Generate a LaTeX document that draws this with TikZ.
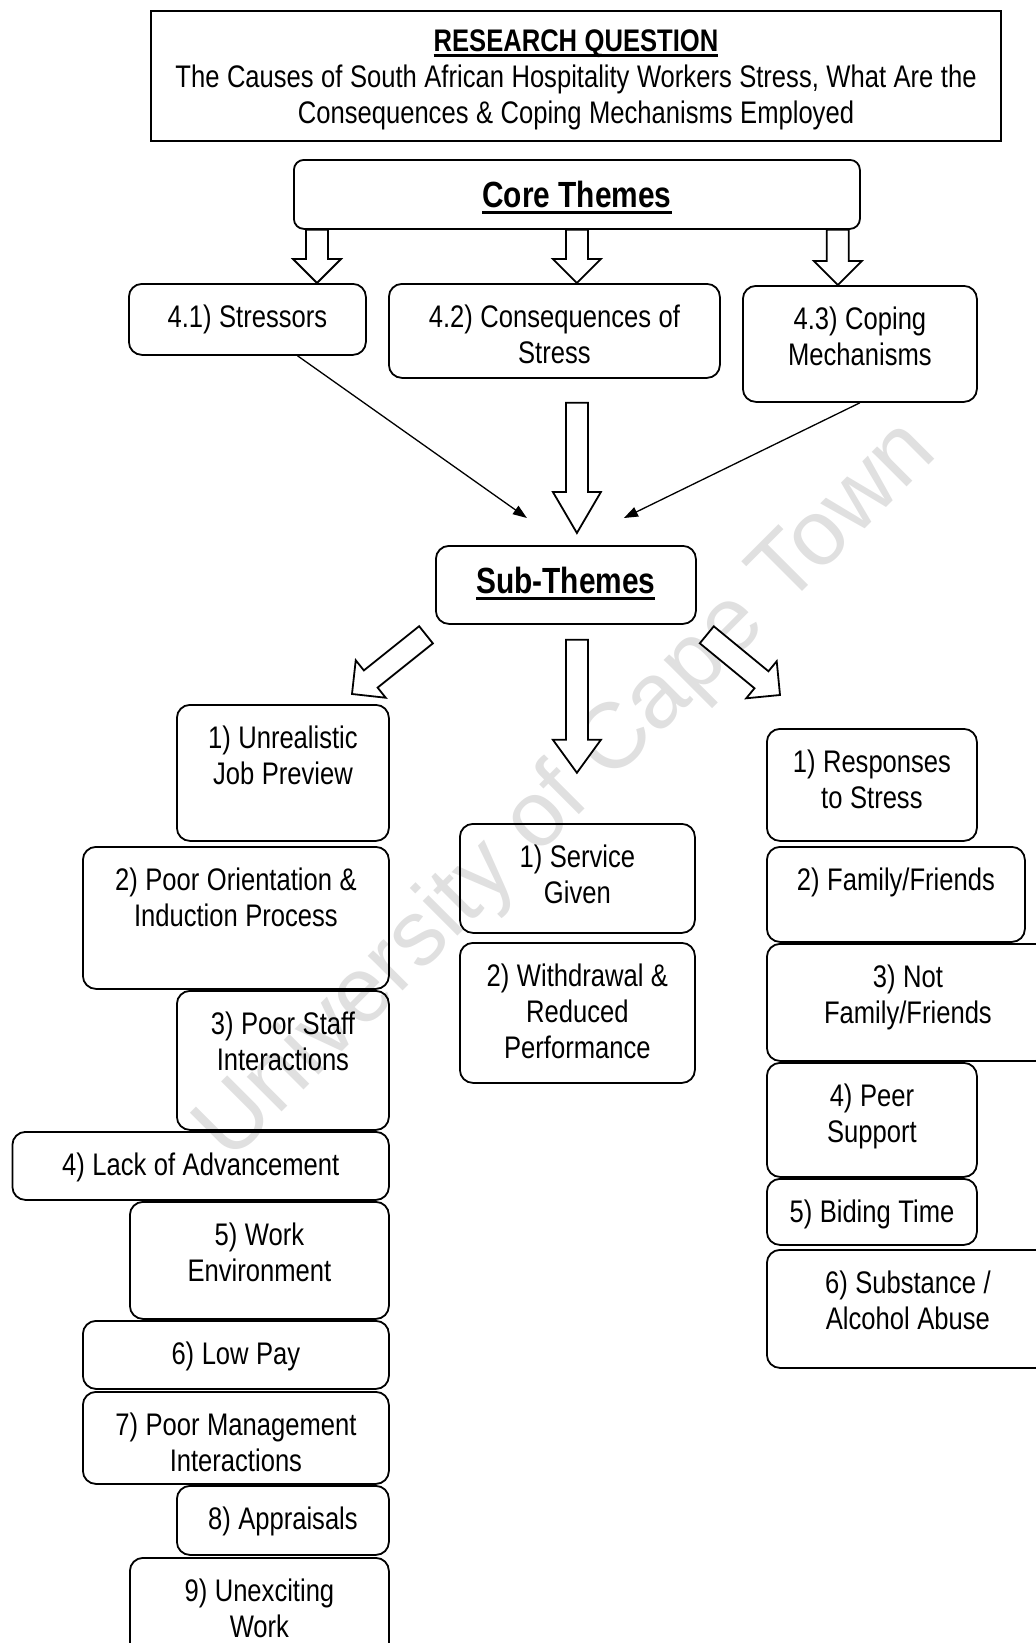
\documentclass[tikz,border=0pt]{standalone}
\usepackage{fontspec}
\setmainfont{Liberation Sans}[FakeStretch=0.82]
\newfontfamily\wmfont{Liberation Sans}
\usetikzlibrary{arrows.meta,calc}
\newcommand{\hdul}[1]{\setbox0=\hbox{#1}\rlap{\rule[-2.8pt]{\wd0}{1.3pt}}\box0}

\begin{document}
\begin{tikzpicture}[x=0.5pt, y=-0.5pt,
  tbox/.style={draw, line width=0.9pt, rounded corners=6.5pt, anchor=north west,
    inner sep=0pt, align=center, text height=22pt,
    font=\fontsize{15.6}{18}\selectfont,
    execute at begin node={\spaceskip=3.75pt\xspaceskip=3.75pt\relax}},
  head/.style={tbox, text height=24pt, font=\bfseries\fontsize{18.2}{21}\selectfont,
    execute at begin node={\spaceskip=4.2pt\xspaceskip=4.2pt\relax}},
  hollow/.style={draw, line width=0.9pt, fill=white, line join=miter,
    to path={($(\tikztotarget)!#1!(\tikztostart)$) coordinate (hb)
      ($(\tikztostart)!5.5pt!90:(\tikztotarget)$)
      -- ($(hb)!5.5pt!90:(\tikztotarget)$)
      -- ($(hb)!12pt!90:(\tikztotarget)$)
      -- (\tikztotarget)
      -- ($(hb)!12pt!-90:(\tikztotarget)$)
      -- ($(hb)!5.5pt!-90:(\tikztotarget)$)
      -- ($(\tikztostart)!5.5pt!-90:(\tikztotarget)$) -- cycle}},
  hollow/.default=12pt,
  thin/.style={-{Triangle[length=7pt,width=5pt]}, line width=0.65pt}]

\useasboundingbox (0,0) rectangle (1036,1643);
\clip (0,0) rectangle (1036,1643);

% watermark
\node[rotate=45, text=black!12, font=\wmfont\fontsize{46.5}{50}\selectfont] (wm) at (568,792)
  {University of Cape Town};

% research question
\node[tbox, sharp corners, line width=1pt, text width=425pt, text height=20pt, text depth=44.75pt] (rq) at (150,10.5)
  {\hdul{\textbf{RESEARCH QUESTION}}\\The Causes of South African Hospitality Workers Stress, What Are the\\Consequences \& Coping Mechanisms Employed};

% core themes
\node[head, rounded corners=5pt, text width=283pt, text depth=10.5pt] (core) at (293,159) {\hdul{Core Themes}};

\node[tbox, text width=118.5pt, text depth=13.5pt] (s41) at (128,283) {4.1) Stressors};
\node[tbox, text width=165.5pt, text depth=25pt] (s42) at (388,283) {4.2) Consequences of\\Stress};
\node[tbox, text width=117pt, text depth=36pt] (s43) at (742,285) {4.3) Coping\\Mechanisms};

% sub-themes
\node[head, text width=130pt, text depth=15pt] (sub) at (435,545) {\hdul{Sub-Themes}};

% stressors
\node[tbox, text width=106pt, text depth=46pt] (u1) at (176,704) {1) Unrealistic\\Job Preview};
\node[tbox, text width=153pt, text depth=49pt] (u2) at (82,846) {2) Poor Orientation \&\\Induction Process};
\node[tbox, text width=106pt, text depth=47.5pt] (u3) at (176,990) {3) Poor Staff\\Interactions};
\node[tbox, text width=188.25pt, text depth=12pt] (u4) at (11.5,1131) {4) Lack of Advancement};
\node[tbox, text width=129.5pt, text depth=36.5pt] (u5) at (129,1201) {5) Work\\Environment};
\node[tbox, text width=153pt, text depth=12pt] (u6) at (82,1320) {6) Low Pay};
\node[tbox, text width=153pt, text depth=24pt] (u7) at (82,1391) {7) Poor Management\\Interactions};
\node[tbox, text width=106pt, text depth=12.5pt] (u8) at (176,1485) {8) Appraisals};
\node[tbox, text width=129.5pt, text depth=35pt] (u9) at (129,1557) {9) Unexciting\\Work};

% consequences
\node[tbox, text width=117.5pt, text depth=32.5pt] (m1) at (459,823) {1) Service\\Given};
\node[tbox, text width=117.5pt, text depth=48pt] (m2) at (459,942) {2) Withdrawal \&\\Reduced\\Performance};

% coping
\node[tbox, text width=105pt, text depth=34pt] (r1) at (766,728) {1) Responses\\to Stress};
\node[tbox, text width=129pt, text depth=25.5pt] (r2) at (766,846) {2) Family/Friends};
\node[tbox, text width=141pt, text depth=36.5pt] (r3) at (766,943) {3) Not\\Family/Friends};
\node[tbox, text width=105pt, text depth=35pt] (r4) at (766,1062) {4) Peer\\Support};
\node[tbox, text width=105pt, text depth=11pt] (r5) at (766,1178) {5) Biding Time};
\node[tbox, text width=141pt, text depth=37pt] (r6) at (766,1249) {6) Substance /\\Alcohol Abuse};

% block arrows
\coordinate (a1) at ($(core.south west)+(24,0)$);
\coordinate (b1) at (a1 |- s41.north);
\coordinate (a2) at (core.south);
\coordinate (b2) at (a2 |- s42.north);
\coordinate (a3) at ($(core.south east)+(-23,0)$);
\coordinate (b3) at (a3 |- s43.north);
\draw[hollow] (a1) to (b1);
\draw[hollow] (a2) to (b2);
\draw[hollow] (a3) to (b3);

\coordinate (a4) at (a2 |- s43.south);
\coordinate (b4) at ($(a2 |- sub.north)+(0,-12)$);
\draw[hollow=20.5pt] (a4) to (b4);

\coordinate (t1) at ($(sub.north)+(-39,-27)$);
\coordinate (t2) at ($(sub.north)+(58,-27)$);
\draw[thin] ($(s41.south west)!0.71!(s41.south east)$) -- (t1);
\draw[thin] (s43.south) -- (t2);

\coordinate (a5) at ($(sub.south west)+(-9,10)$);
\coordinate (b5) at (352,694);
\coordinate (a6) at ($(sub.south east)+(10,10)$);
\coordinate (b6) at (780,695);
\coordinate (a7) at ($(a2 |- sub.south)+(0,15)$);
\coordinate (b7) at ($(a7)+(0,133)$);
\draw[hollow] (a5) to (b5);
\draw[hollow] (a6) to (b6);
\draw[hollow=16.5pt] (a7) to (b7);

\end{tikzpicture}
\end{document}
